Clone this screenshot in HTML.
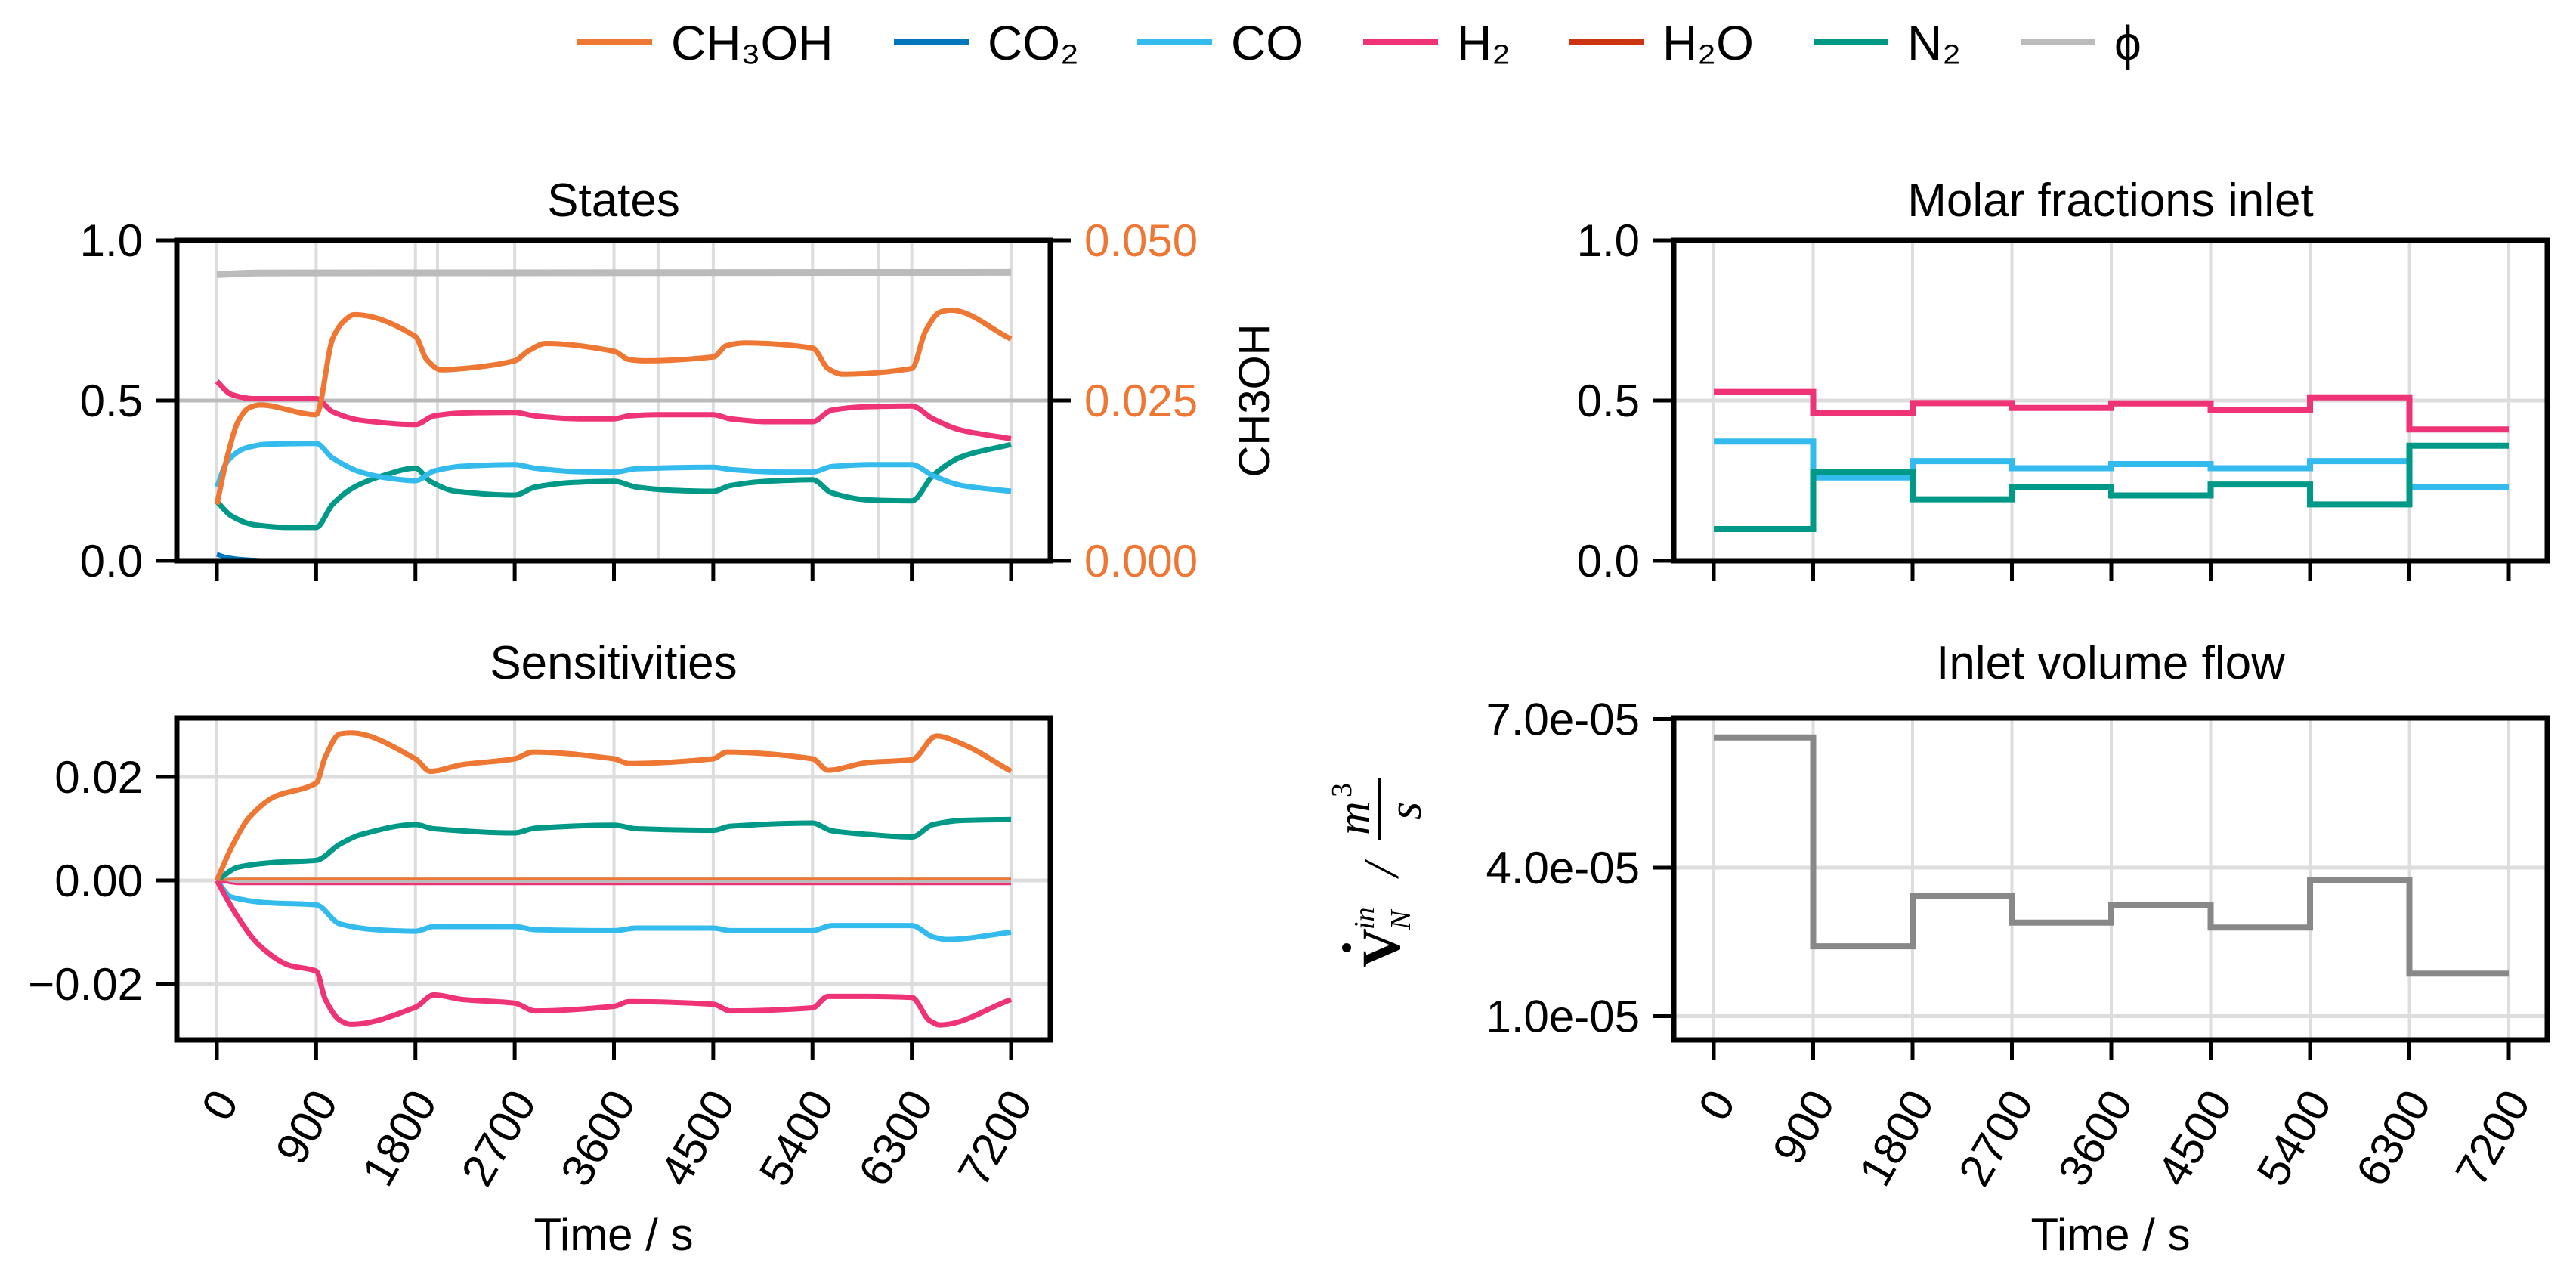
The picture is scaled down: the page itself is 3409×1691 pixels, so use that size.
<!DOCTYPE html>
<html><head><meta charset="utf-8"><style>
html,body{margin:0;padding:0;background:#fff}
svg{display:block}
text{font-family:"Liberation Sans",sans-serif;fill:#000}
</style></head><body>
<svg id="fig" width="3409" height="1691" viewBox="0 0 3409 1691" xmlns="http://www.w3.org/2000/svg">
<g id="legend"></g>
<g id="pStates"></g>
<g id="pSens"></g>
<g id="pMolar"></g>
<g id="pFlow"></g>
</svg>
<script>
// ---------- data ----------
const xTicks = [0,900,1800,2700,3600,4500,5400,6300,7200];
const legendNames = ["CH\u2083OH","CO\u2082","CO","H\u2082","H\u2082O","N\u2082","\u03D5"];
const legendColors = ["#EE7733","#0077BB","#33BBEE","#EE3377","#CC3311","#009988","#BBBBBB"];

const stCH3OH_t = [0,98,197,295,393,900,1049,1147,1246,1800,1902,2033,2229,2700,2820,2983,3600,3737,3869,4500,4623,4787,5400,5541,5672,6300,6426,6557,6655,7200];
const stCH3OH_v = [0.0088,0.0165,0.0219,0.0239,0.0243,0.0228,0.0346,0.0373,0.0384,0.0350,0.0314,0.0298,0.0300,0.0312,0.0327,0.0339,0.0327,0.0314,0.0312,0.0318,0.0336,0.0340,0.0332,0.0300,0.0291,0.0300,0.0359,0.0388,0.0391,0.0346];
const stH2_t = [0,131,328,900,1049,1311,1800,1967,2229,2700,2885,3278,3600,3737,4000,4500,4656,4983,5400,5574,5902,6300,6492,6754,7200];
const stH2_v = [0.560,0.519,0.506,0.506,0.465,0.438,0.425,0.452,0.461,0.463,0.452,0.443,0.443,0.452,0.456,0.456,0.443,0.434,0.434,0.470,0.481,0.483,0.443,0.407,0.381];
const stCO_t = [0,98,262,459,900,1049,1311,1574,1800,1967,2229,2700,2885,3278,3600,3803,4500,4656,5115,5400,5574,5902,6300,6492,6754,7200];
const stCO_v = [0.230,0.312,0.352,0.364,0.366,0.321,0.276,0.257,0.250,0.280,0.295,0.300,0.289,0.278,0.277,0.287,0.292,0.285,0.277,0.277,0.294,0.300,0.300,0.266,0.235,0.217];
const stN2_t = [0,131,328,656,900,1049,1246,1508,1800,1934,2164,2700,2885,3213,3600,3803,4131,4500,4656,4983,5400,5574,5902,6300,6492,6754,7200];
const stN2_v = [0.185,0.140,0.113,0.104,0.104,0.176,0.230,0.266,0.289,0.248,0.217,0.205,0.230,0.244,0.248,0.230,0.220,0.217,0.235,0.248,0.253,0.212,0.190,0.187,0.266,0.325,0.363];
const stCO2_t = [0,100,250,500,7200];
const stCO2_v = [0.02,0.01,0.004,0.0,0.0];
const stH2O_t = [0,7200];
const stH2O_v = [0.0,0.0];
const stPhi_t = [0,360,7200];
const stPhi_v = [0.893,0.898,0.900];

const seCH3OH_t = [0,131,295,525,900,984,1115,1213,1800,1934,2229,2700,2864,3600,3737,4500,4623,5400,5541,5902,6300,6524,6754,7200];
const seCH3OH_v = [0,0.0063,0.0122,0.0162,0.0188,0.0239,0.0283,0.0285,0.0235,0.0211,0.0224,0.0235,0.0248,0.0235,0.0226,0.0235,0.0248,0.0235,0.0213,0.0228,0.0233,0.0279,0.0264,0.0211];
const seN2_t = [0,197,525,900,1115,1311,1800,1967,2700,2885,3600,3803,4500,4656,5400,5574,5902,6300,6492,6754,7200];
const seN2_v = [0,0.0026,0.0035,0.0039,0.0070,0.0089,0.0108,0.0100,0.0092,0.0101,0.0107,0.0100,0.0097,0.0105,0.0111,0.0096,0.0089,0.0084,0.0108,0.0116,0.0118];
const seCO_t = [0,131,459,900,1115,1443,1800,1967,2700,2885,3600,3803,4500,4656,5400,5574,6300,6492,6623,7200];
const seCO_v = [0,-0.0032,-0.0043,-0.0047,-0.0084,-0.0095,-0.0098,-0.0089,-0.0089,-0.0095,-0.0097,-0.0092,-0.0092,-0.0097,-0.0097,-0.0087,-0.0087,-0.0109,-0.0114,-0.0100];
const seH2_t = [0,164,393,656,900,984,1115,1213,1800,1967,2229,2700,2885,3600,3737,4500,4656,5400,5541,5902,6300,6459,6557,7200];
const seH2_v = [0,-0.0062,-0.0127,-0.0164,-0.0175,-0.0230,-0.0270,-0.0278,-0.0245,-0.0221,-0.0230,-0.0237,-0.0252,-0.0243,-0.0234,-0.0239,-0.0252,-0.0246,-0.0224,-0.0224,-0.0226,-0.0270,-0.0279,-0.0230];
const seSmallH2_v = [0,-0.0007,-0.0007];
const seSmallCH3OH_v = [0,0.0003,0.0003];
const seSmall_t = [0,200,7200];
const sePhi_v = [0,0,0];

const mfH2 = [0.527,0.461,0.492,0.477,0.491,0.470,0.510,0.410];
const mfCO = [0.372,0.260,0.311,0.289,0.302,0.289,0.311,0.229];
const mfN2 = [0.099,0.276,0.192,0.230,0.204,0.238,0.176,0.359];
const mfZero = [0,0,0,0,0,0,0,0];

const flowV = [6.63e-5,2.41e-5,3.43e-5,2.89e-5,3.24e-5,2.79e-5,3.74e-5,1.86e-5];
const flowTicks = [1e-5,4e-5,7e-5];
const flowTickLabels = ["1.0e-05","4.0e-05","7.0e-05"];
const statesTicks = [0,0.5,1.0];
const statesTickLabels = ["0.0","0.5","1.0"];
const ch3ohTicks = [0,0.025,0.05];
const ch3ohTickLabels = ["0.000","0.025","0.050"];
const sensTicks = [-0.02,0,0.02];
const sensTickLabels = ["\u22120.02","0.00","0.02"];

// ---------- helpers ----------
const NS="http://www.w3.org/2000/svg";
function mk(parent,tag,attrs,txt){const e=document.createElementNS(NS,tag);for(const k in attrs)e.setAttribute(k,attrs[k]);if(txt!==undefined)e.textContent=txt;parent.appendChild(e);return e;}
const xL=t=>287+t*(1338-287)/7200;
const xR=t=>2268+t*(3320-2268)/7200;
const yStates=v=>742-v*424;
const yCH3=v=>742-v/0.05*424;
const ySens=v=>1165-v/0.02*137;
const yMolar=v=>742-v*424;
const yFlow=v=>1148-(v-4e-5)/1e-5*65.5;

// monotone cubic (Fritsch-Carlson) path in pixel space
function polyline(g,ts,vs,xf,yf,color,w,name){
  const X=ts.map(xf), Y=vs.map(yf), n=X.length;
  const dl=[], m=[];
  for(let i=0;i<n-1;i++) dl.push((Y[i+1]-Y[i])/(X[i+1]-X[i]));
  for(let i=0;i<n;i++){
    if(i===0) m.push(dl[0]); else if(i===n-1) m.push(dl[n-2]);
    else if(dl[i-1]*dl[i]<=0) m.push(0);
    else m.push(2/(1/dl[i-1]+1/dl[i]));
  }
  let d="M"+X[0].toFixed(1)+","+Y[0].toFixed(1);
  for(let i=0;i<n-1;i++){
    const h=(X[i+1]-X[i])/3;
    d+="C"+(X[i]+h).toFixed(1)+","+(Y[i]+m[i]*h).toFixed(1)+" "+(X[i+1]-h).toFixed(1)+","+(Y[i+1]-m[i+1]*h).toFixed(1)+" "+X[i+1].toFixed(1)+","+Y[i+1].toFixed(1);
  }
  const p=mk(g,"path",{d:d,fill:"none",stroke:color,"stroke-width":w,"stroke-linejoin":"round"});
  
  
}
function steps(g,vals,xf,yf,color,w,name){
  let d="";for(let i=0;i<vals.length;i++){const y=yf(vals[i]).toFixed(1);d+=(i?"L":"M")+xf(i*900).toFixed(1)+","+y+"L"+xf((i+1)*900).toFixed(1)+","+y;}
  const p=mk(g,"path",{d:d,fill:"none",stroke:color,"stroke-width":w,"stroke-linejoin":"miter"});
  
  
}
function frame(g,x0,x1,y0,y1){
  const r=mk(g,"rect",{x:x0,y:y0,width:x1-x0,height:y1-y0,fill:"none",stroke:"#000","stroke-width":7});
  
  
}
function vgrid(g,xf,y0,y1,ts){
  ts.forEach(t=>{const l=mk(g,"line",{x1:xf(t),x2:xf(t),y1:y0,y2:y1,stroke:"#dddddd","stroke-width":4});
  
  });
}
function hgrid(g,x0,x1,ys,color){
  ys.forEach(y=>{const l=mk(g,"line",{x1:x0,x2:x1,y1:y,y2:y,stroke:color||"#dddddd","stroke-width":5});
  
  });
}
function xticks(g,xf,yb,labels){
  xTicks.forEach(t=>{const x=xf(t);const l=mk(g,"line",{x1:x,x2:x,y1:yb,y2:yb+27,stroke:"#000","stroke-width":5});
    
    
    if(labels){const ax=x+30, ay=yb+82;
      const tx=mk(g,"text",{x:ax,y:ay,"font-size":60,"text-anchor":"end",transform:`rotate(-60 ${ax} ${ay})`},String(t));
      
      }
  });
}
function yticks(g,xs,yf,vals,labels,side,color){
  vals.forEach((v,i)=>{const y=yf(v);
    const x2=side==="left"?xs-27:xs+27;
    const l=mk(g,"line",{x1:xs,x2:x2,y1:y,y2:y,stroke:"#000","stroke-width":5});
    
    
    const tx=mk(g,"text",{x:side==="left"?xs-45:xs+45,y:y+21,"font-size":60,"text-anchor":side==="left"?"end":"start"},labels[i]);
    if(color)tx.setAttribute("style","fill:"+color);
    
    
  });
}
function title(g,x,y,s,name){const t=mk(g,"text",{x:x,y:y,"font-size":62,"text-anchor":"middle"},s);
  
  }

// ---------- legend ----------
const lg=document.getElementById("legend");
const legX=[764,1183,1505,1804,2076,2400,2674];
legendNames.forEach((n,i)=>{
  const l=mk(lg,"line",{x1:legX[i],x2:legX[i]+99,y1:56,y2:56,stroke:legendColors[i],"stroke-width":8});
  
  
  const t=mk(lg,"text",{x:legX[i]+124,y:79,"font-size":64},n);
  
  
});

// ---------- States ----------
const gS=document.getElementById("pStates");
vgrid(gS,xL,318,742,xTicks.concat([2000,4000,6000]));
hgrid(gS,234,1390,[yStates(0.5)],"#bbbbbb");
polyline(gS,stPhi_t,stPhi_v,xL,yStates,"#BBBBBB",9,"phi-line");
polyline(gS,stH2O_t,stH2O_v,xL,yStates,"#CC3311",6,"h2o-line");
polyline(gS,stCO2_t,stCO2_v,xL,yStates,"#0077BB",6,"co2-line");
polyline(gS,stN2_t,stN2_v,xL,yStates,"#009988",7,"n2-line");
polyline(gS,stCO_t,stCO_v,xL,yStates,"#33BBEE",7,"co-line");
polyline(gS,stH2_t,stH2_v,xL,yStates,"#EE3377",7,"h2-line");
polyline(gS,stCH3OH_t,stCH3OH_v,xL,yCH3,"#EE7733",7,"ch3oh-line");
frame(gS,234,1390,318,742);
xticks(gS,xL,742,false);
yticks(gS,234,yStates,statesTicks,statesTickLabels,"left");
yticks(gS,1390,yCH3,ch3ohTicks,ch3ohTickLabels,"right","#EE7733");
title(gS,812,286,"States","states-title");
const ra=mk(gS,"text",{x:1680,y:530,"font-size":58,"text-anchor":"middle",transform:"rotate(-90 1680 530)"},"CH3OH");



// ---------- Sensitivities ----------
const gE=document.getElementById("pSens");
vgrid(gE,xL,950,1376,xTicks);
hgrid(gE,234,1390,sensTicks.map(ySens));
polyline(gE,seSmall_t,sePhi_v,xL,ySens,"#BBBBBB",9,"phi-sens-line");
polyline(gE,seSmall_t,seSmallH2_v,xL,ySens,"#EE3377",3,"h2o-sens-line");
polyline(gE,seSmall_t,seSmallCH3OH_v,xL,ySens,"#EE7733",3,"co2-sens-line");
polyline(gE,seN2_t,seN2_v,xL,ySens,"#009988",7,"n2-sens-line");
polyline(gE,seCO_t,seCO_v,xL,ySens,"#33BBEE",7,"co-sens-line");
polyline(gE,seH2_t,seH2_v,xL,ySens,"#EE3377",7,"h2-sens-line");
polyline(gE,seCH3OH_t,seCH3OH_v,xL,ySens,"#EE7733",7,"ch3oh-sens-line");
frame(gE,234,1390,950,1376);
xticks(gE,xL,1376,true);
yticks(gE,234,ySens,sensTicks,sensTickLabels,"left");
title(gE,812,898,"Sensitivities","sensitivities-title");
const xt1=mk(gE,"text",{x:812,y:1654,"font-size":60,"text-anchor":"middle"},"Time / s");



// ---------- Molar fractions ----------
const gM=document.getElementById("pMolar");
vgrid(gM,xR,318,742,xTicks);
hgrid(gM,2215,3371,[yMolar(0.5)]);
steps(gM,mfZero,xR,yMolar,"#0077BB",5,"co2-inlet-line");
steps(gM,mfH2,xR,yMolar,"#EE3377",8,"h2-inlet-line");
steps(gM,mfCO,xR,yMolar,"#33BBEE",8,"co-inlet-line");
steps(gM,mfN2,xR,yMolar,"#009988",8,"n2-inlet-line");
frame(gM,2215,3371,318,742);
xticks(gM,xR,742,false);
yticks(gM,2215,yMolar,statesTicks,statesTickLabels,"left");
title(gM,2793,286,"Molar fractions inlet","molar-fractions-title");

// ---------- Inlet volume flow ----------
const gF=document.getElementById("pFlow");
vgrid(gF,xR,950,1376,xTicks);
hgrid(gF,2215,3371,[yFlow(4e-5),yFlow(1e-5)]);
steps(gF,flowV,xR,yFlow,"#888888",8,"inlet-flow-line");
frame(gF,2215,3371,950,1376);
xticks(gF,xR,1376,true);
yticks(gF,2215,yFlow,flowTicks,flowTickLabels,"left");
title(gF,2793,898,"Inlet volume flow","inlet-volume-flow-title");
const xt2=mk(gF,"text",{x:2793,y:1654,"font-size":60,"text-anchor":"middle"},"Time / s");



// y-axis title: V_N^in / (m^3 / s), rotated
const yg=mk(gF,"g",{transform:"translate(1830 1160) rotate(-90)"});


const ser="font-family:'Liberation Serif',serif";
mk(yg,"text",{x:-120,y:22,"font-size":72,"font-weight":"bold",style:ser},"V");
mk(yg,"circle",{cx:-94,cy:-48,r:6,fill:"#000"});
mk(yg,"text",{x:-70,y:-12,"font-size":38,"font-style":"italic",style:ser},"in");
mk(yg,"text",{x:-70,y:36,"font-size":38,"font-style":"italic",style:ser},"N");
mk(yg,"text",{x:0,y:20,"font-size":66,"font-style":"italic",style:ser},"/");
mk(yg,"text",{x:55,y:-18,"font-size":62,"font-style":"italic",style:ser},"m");
mk(yg,"text",{x:105,y:-42,"font-size":38,style:ser},"3");
mk(yg,"line",{x1:48,x2:130,y1:-5,y2:-5,stroke:"#000","stroke-width":4});
mk(yg,"text",{x:75,y:50,"font-size":62,"font-style":"italic",style:ser},"s");
</script>
</body></html>
